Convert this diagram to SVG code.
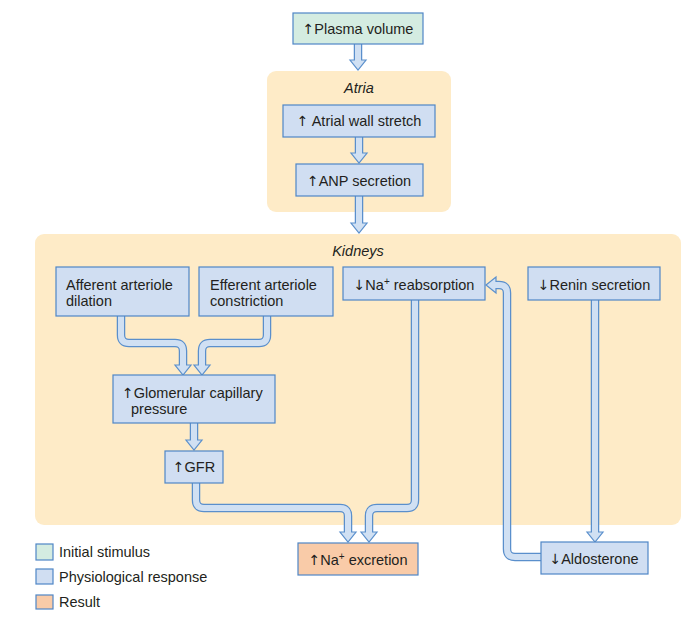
<svg xmlns="http://www.w3.org/2000/svg" width="687" height="618" viewBox="0 0 687 618">
<style>
text{font-family:"Liberation Sans",Arial,sans-serif;font-size:14.5px;fill:#231f20}
.c{text-anchor:middle}
.it{font-style:italic}
.ar{font-family:"DejaVu Sans",sans-serif;font-size:14px}
.panel{fill:#feebc7}
.bx{fill:#d0def2;stroke:#4f86c6;stroke-width:1.2}
.st{fill:#d4ece1;stroke:#4f86c6;stroke-width:1.2}
.rs{fill:#f9cba8;stroke:#4f86c6;stroke-width:1.2}
.o{fill:none;stroke:#5a8fcc;stroke-width:8.5}
.i{fill:none;stroke:#d0e0f3;stroke-width:6}
.h{fill:#d0e0f3;stroke:#5a8fcc;stroke-width:1.2;stroke-linejoin:miter}
.sup{font-size:10px}
</style>
<rect class="panel" x="267" y="71" width="184" height="141" rx="9"/>
<rect class="panel" x="35" y="234" width="646" height="291" rx="9"/>
<text class="c it" x="359" y="93">Atria</text>
<text class="c it" x="358" y="256">Kidneys</text>

<g id="connectors">
<g><path class="o" d="M358,44V62"/><polygon class="h" points="350,60 366,60 358,70"/><path class="i" d="M358,44V62"/></g>
<g><path class="o" d="M359,137V155"/><polygon class="h" points="351,153 367,153 359,163"/><path class="i" d="M359,137V155"/></g>
<g><path class="o" d="M359,196V225"/><polygon class="h" points="351,223 367,223 359,233"/><path class="i" d="M359,196V225"/></g>
<g><path class="o" d="M121,316V335Q121,343 129,343H175Q183,343 183,351V367"/><polygon class="h" points="175,365 191,365 183,375"/><path class="i" d="M121,316V335Q121,343 129,343H175Q183,343 183,351V367"/></g>
<g><path class="o" d="M267,316V335Q267,343 259,343H210Q202,343 202,351V367"/><polygon class="h" points="194,365 210,365 202,375"/><path class="i" d="M267,316V335Q267,343 259,343H210Q202,343 202,351V367"/></g>
<g><path class="o" d="M194,423V442"/><polygon class="h" points="186,440 202,440 194,450"/><path class="i" d="M194,423V442"/></g>
<g><path class="o" d="M196,483V500Q196,508 204,508H340Q348,508 348,516V534"/><polygon class="h" points="340,532 356,532 348,542"/><path class="i" d="M196,483V500Q196,508 204,508H340Q348,508 348,516V534"/></g>
<g><path class="o" d="M415,300V500Q415,508 407,508H377Q369,508 369,516V534"/><polygon class="h" points="361,532 377,532 369,542"/><path class="i" d="M415,300V500Q415,508 407,508H377Q369,508 369,516V534"/></g>
<g><path class="o" d="M595,300V534"/><polygon class="h" points="587,532 603,532 595,542"/><path class="i" d="M595,300V534"/></g>
<g><path class="o" d="M541,557H515Q507,557 507,549V293Q507,285 499,285H494"/><polygon class="h" points="496,277 496,293 486,285"/><path class="i" d="M541,557H515Q507,557 507,549V293Q507,285 499,285H494"/></g>
</g>

<g id="plasma"><rect class="st" x="293" y="13" width="130" height="31"/><text class="c" x="358" y="34"><tspan class="ar">↑</tspan>Plasma volume</text></g>
<g id="atrial"><rect class="bx" x="283" y="105" width="152" height="32"/><text class="c" x="359" y="126"><tspan class="ar">↑</tspan> Atrial wall stretch</text></g>
<g id="anp"><rect class="bx" x="296" y="164" width="127" height="32"/><text class="c" x="359" y="186"><tspan class="ar">↑</tspan>ANP secretion</text></g>
<g id="afferent"><rect class="bx" x="56" y="267" width="133" height="49"/><text x="66" y="290">Afferent arteriole</text><text x="66" y="306">dilation</text></g>
<g id="efferent"><rect class="bx" x="199" y="267" width="134" height="49"/><text x="210" y="290">Efferent arteriole</text><text x="210" y="306">constriction</text></g>
<g id="nareab"><rect class="bx" x="343" y="267" width="142" height="33"/><text class="c" x="414" y="290"><tspan class="ar">↓</tspan>Na<tspan class="sup" dy="-5">+</tspan><tspan dy="5"> reabsorption</tspan></text></g>
<g id="renin"><rect class="bx" x="528" y="267" width="132" height="33"/><text class="c" x="594" y="290"><tspan class="ar">↓</tspan>Renin secretion</text></g>
<g id="glom"><rect class="bx" x="113" y="375" width="162" height="48"/><text x="122" y="398"><tspan class="ar">↑</tspan>Glomerular capillary</text><text x="131" y="414">pressure</text></g>
<g id="gfr"><rect class="bx" x="165" y="451" width="58" height="32"/><text class="c" x="194" y="472"><tspan class="ar">↑</tspan>GFR</text></g>
<g id="naexc"><rect class="rs" x="298" y="543" width="120" height="32"/><text class="c" x="358" y="565"><tspan class="ar">↑</tspan>Na<tspan class="sup" dy="-5">+</tspan><tspan dy="5"> excretion</tspan></text></g>
<g id="aldo"><rect class="bx" x="541" y="542" width="107" height="32"/><text class="c" x="594" y="564"><tspan class="ar">↓</tspan>Aldosterone</text></g>

<g id="legend">
<rect class="st" x="36" y="544" width="17" height="16"/><text x="59" y="557">Initial stimulus</text>
<rect class="bx" x="36" y="569" width="17" height="15"/><text x="59" y="582">Physiological response</text>
<rect class="rs" x="36" y="595" width="17" height="14"/><text x="59" y="607">Result</text>
</g>
</svg>
